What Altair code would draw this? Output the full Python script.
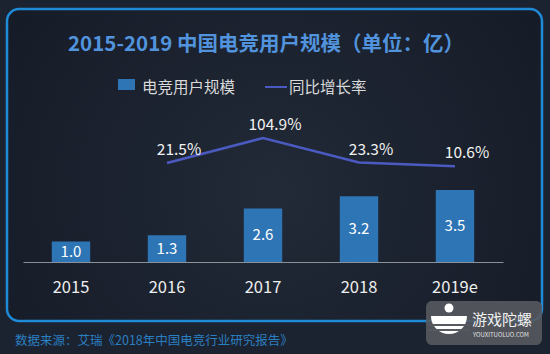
import altair as alt
import pandas as pd

years = ["2015", "2016", "2017", "2018", "2019e"]
users = [1.0, 1.3, 2.6, 3.2, 3.5]
growth = [None, 21.5, 104.9, 23.3, 10.6]

title_text = "2015-2019 中国电竞用户规模（单位：亿）"
legend_bar = "电竞用户规模"
legend_line = "同比增长率"
source_text = "数据来源：艾瑞《2018年中国电竞行业研究报告》"
wm_text = "游戏陀螺"
wm_sub = "YOUXITUOLUO.COM"

FONT = "Noto Sans CJK SC"
BAR_COLOR = "#2e75b6"
LINE_COLOR = "#4b5ac0"

df = pd.DataFrame({"year": years, "users": users, "growth": growth})
one = alt.Data(values=[{"k": 0}])

x_enc = alt.X(
    "year:N",
    sort=years,
    scale=alt.Scale(paddingInner=0.6, paddingOuter=0.3),
    axis=alt.Axis(
        title=None, labelAngle=0, ticks=False, labelFont=FONT, labelFontSize=16.5,
        labelColor="#eeeeee", labelPadding=17, domainColor="#8c9099", domainWidth=1,
        zindex=1,
    ),
)
ybar_scale = alt.Scale(domain=[0, 6.9])
yline_scale = alt.Scale(domain=[-308, 165])

# frame
frame = alt.Chart(one).mark_rect(
    cornerRadius=12, stroke="#1f8ad6", strokeWidth=2.5,
    fill={"gradient": "radial", "x1": 0.5, "y1": 0.55, "x2": 0.5, "y2": 0.55, "r1": 0, "r2": 0.75,
          "stops": [{"offset": 0, "color": "#222a37"}, {"offset": 1, "color": "#121723"}]},
).encode(x=alt.value(-16), x2=alt.value(519), y=alt.value(-111), y2=alt.value(201))

base = alt.Chart(df)

bars = base.mark_bar(color=BAR_COLOR).encode(
    x=x_enc, y=alt.Y("users:Q", scale=ybar_scale, axis=None)
)
bar_labels = base.transform_calculate(half="datum.users / 2").mark_text(
    font=FONT, fontSize=15, color="#ffffff", baseline="middle"
).encode(
    x=x_enc, y=alt.Y("half:Q", scale=ybar_scale, axis=None), text=alt.Text("users:Q", format=".1f")
)

line_base = base.transform_filter("isValid(datum.growth)")
line = line_base.mark_line(color=LINE_COLOR, strokeWidth=2.5).encode(
    x=x_enc, y=alt.Y("growth:Q", scale=yline_scale, axis=None)
)
line_labels = line_base.transform_calculate(lab="format(datum.growth, '.1f') + '%'").mark_text(
    font=FONT, fontSize=15.5, color="#f2f2f2", dx=12, dy=-13, baseline="middle"
).encode(
    x=x_enc, y=alt.Y("growth:Q", scale=yline_scale, axis=None), text="lab:N"
)

title = alt.Chart(one).mark_text(
    text=title_text, font=FONT, fontSize=20.5, fontWeight="bold", color="#5193dc",
    align="center", baseline="middle",
).encode(x=alt.value(243), y=alt.value(-75))

leg_sq = alt.Chart(one).mark_rect(color=BAR_COLOR).encode(
    x=alt.value(95), x2=alt.value(112), y=alt.value(-41), y2=alt.value(-30)
)
leg_t1 = alt.Chart(one).mark_text(
    text=legend_bar, font=FONT, fontSize=15.5, color="#d9d9d9", align="left", baseline="middle"
).encode(x=alt.value(119), y=alt.value(-32))
leg_ln = alt.Chart(one).mark_rule(color=LINE_COLOR, strokeWidth=2).encode(
    x=alt.value(242), x2=alt.value(264), y=alt.value(-33)
)
leg_t2 = alt.Chart(one).mark_text(
    text=legend_line, font=FONT, fontSize=15.5, color="#d9d9d9", align="left", baseline="middle"
).encode(x=alt.value(266), y=alt.value(-32))

source = alt.Chart(one).mark_text(
    text=source_text, font=FONT, fontSize=12.5, color="#2a7fc0", align="left", baseline="middle"
).encode(x=alt.value(-8), y=alt.value(221))

wm_box = alt.Chart(one).mark_rect(cornerRadius=6, fill="#56595f", opacity=0.9).encode(
    x=alt.value(403), x2=alt.value(519), y=alt.value(181), y2=alt.value(225)
)
wm_drop = alt.Chart(one).mark_circle(color="#ffffff", opacity=1, size=80).encode(
    x=alt.value(426), y=alt.value(188)
)
wm_bowl = alt.Chart(one).mark_arc(color="#ffffff", theta=1.5708, theta2=4.7124, radius=18, radius2=0).encode(
    x=alt.value(426), y=alt.value(196)
)
wm_cut1 = alt.Chart(one).mark_rule(color="#56595f", strokeWidth=2).encode(
    x=alt.value(405), x2=alt.value(447), y=alt.value(205)
)
wm_cut2 = alt.Chart(one).mark_rule(color="#56595f", strokeWidth=2).encode(
    x=alt.value(405), x2=alt.value(447), y=alt.value(210)
)
wm_t = alt.Chart(one).mark_text(
    text=wm_text, font=FONT, fontSize=15, color="#f0f0f0", align="left", baseline="middle"
).encode(x=alt.value(449), y=alt.value(200))
wm_s = alt.Chart(one).mark_text(
    text=wm_sub, font=FONT, fontSize=6, color="#e0e0e0", align="left", baseline="middle"
).encode(x=alt.value(450), y=alt.value(215))

chart = alt.layer(
    frame, bars, bar_labels, line, line_labels, title, leg_sq, leg_t1, leg_ln, leg_t2,
    source, wm_box, wm_drop, wm_bowl, wm_cut1, wm_cut2, wm_t, wm_s,
).resolve_scale(y="independent").properties(
    width=480, height=142,
    padding={"left": 23, "top": 120, "right": 47, "bottom": 92},
    autosize=alt.AutoSizeParams(type="none"),
    background="#1c2330",
).configure_view(stroke=None)

chart.save("out.html", embed_options={"renderer": "svg", "actions": False})
